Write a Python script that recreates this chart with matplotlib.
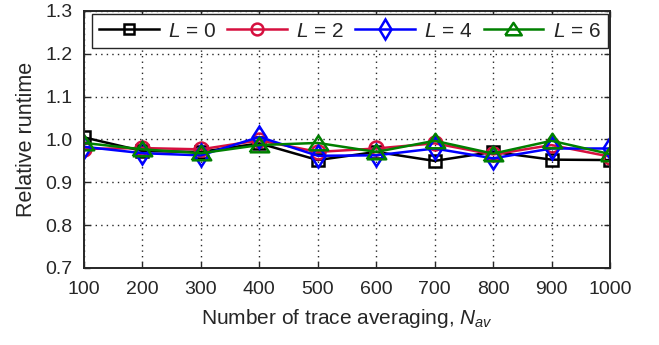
import matplotlib
matplotlib.use("Agg")
import matplotlib.pyplot as plt

plt.rcParams['font.family'] = ['Liberation Sans', 'DejaVu Sans']
plt.rcParams['mathtext.fontset'] = 'custom'
plt.rcParams['mathtext.it'] = 'Liberation Sans:italic'
plt.rcParams['mathtext.rm'] = 'Liberation Sans'

n_av = [100, 200, 300, 400, 500, 600, 700, 800, 900, 1000]
runtime_L0 = [1.005, 0.973, 0.971, 0.991, 0.952, 0.971, 0.950, 0.971, 0.953, 0.952]
runtime_L2 = [0.978, 0.980, 0.977, 0.998, 0.971, 0.979, 0.991, 0.965, 0.987, 0.960]
runtime_L4 = [0.983, 0.968, 0.963, 1.006, 0.962, 0.963, 0.979, 0.956, 0.979, 0.979]
runtime_L6 = [0.992, 0.977, 0.968, 0.987, 0.992, 0.971, 0.997, 0.967, 0.997, 0.966]
layer_counts = [0, 2, 4, 6]

# wide, flat triangle marker
wide_triangle = [(-1.0, -0.7), (1.0, -0.7), (0.0, 0.8), (-1.0, -0.7)]

series = [
    (runtime_L0, 'black', 's', 8.0),
    (runtime_L2, '#d6103f', 'o', 10.0),
    (runtime_L4, '#0000ff', 'd', 11.5),
    (runtime_L6, '#008000', wide_triangle, 14.0),
]
text_color = '#262626'

fig = plt.figure(figsize=(6.59, 3.45), dpi=100)
ax = fig.add_axes([84 / 659, 1 - 268 / 345, (610 - 84) / 659, (268 - 11) / 345])

for (vals, color, marker, ms), L in zip(series, layer_counts):
    ax.plot(n_av, vals, color=color, marker=marker, markersize=ms,
            markerfacecolor='none', markeredgewidth=1.8, linewidth=1.8,
            label=f'$L$ = {L}')

ax.set_xlim(100, 1000)
ax.set_ylim(0.7, 1.3)
ax.set_xticks(n_av)
ax.set_yticks([0.7, 0.8, 0.9, 1.0, 1.1, 1.2, 1.3])
ax.set_yticklabels(['0.7', '0.8', '0.9', '1.0', '1.1', '1.2', '1.3'])
ax.tick_params(direction='in', length=4, width=1, labelsize=14, colors=text_color,
               top=True, right=True)
ax.tick_params(axis='x', pad=9)
ax.tick_params(axis='y', pad=8.5)
for sp in ax.spines.values():
    sp.set_linewidth(1.4)
    sp.set_color(text_color)
ax.grid(True, linestyle=(0, (1, 3)), color=text_color, linewidth=1.0)

ax.set_xlabel('Number of trace averaging, $N_{av}$', fontsize=15, color=text_color,
              labelpad=7)
ax.set_ylabel('Relative runtime', fontsize=15.5, color=text_color, labelpad=6)

leg = ax.legend(loc='lower left', ncol=4, fontsize=15, frameon=True, fancybox=False,
                edgecolor=text_color, handlelength=2.85, handletextpad=0.45,
                borderpad=0.35, borderaxespad=0, mode='expand',
                bbox_to_anchor=(0.015, 0.856, 0.981, 0.132))
leg.get_frame().set_linewidth(1.0)
leg.get_frame().set_alpha(1)
for t in leg.get_texts():
    t.set_color(text_color)
# legend symbols are drawn a bit smaller than the plotted markers
for h, (_, _, _, ms) in zip(leg.legend_handles, series):
    h.set_markersize(ms * 0.85)

fig.savefig('out.png', dpi=100)
